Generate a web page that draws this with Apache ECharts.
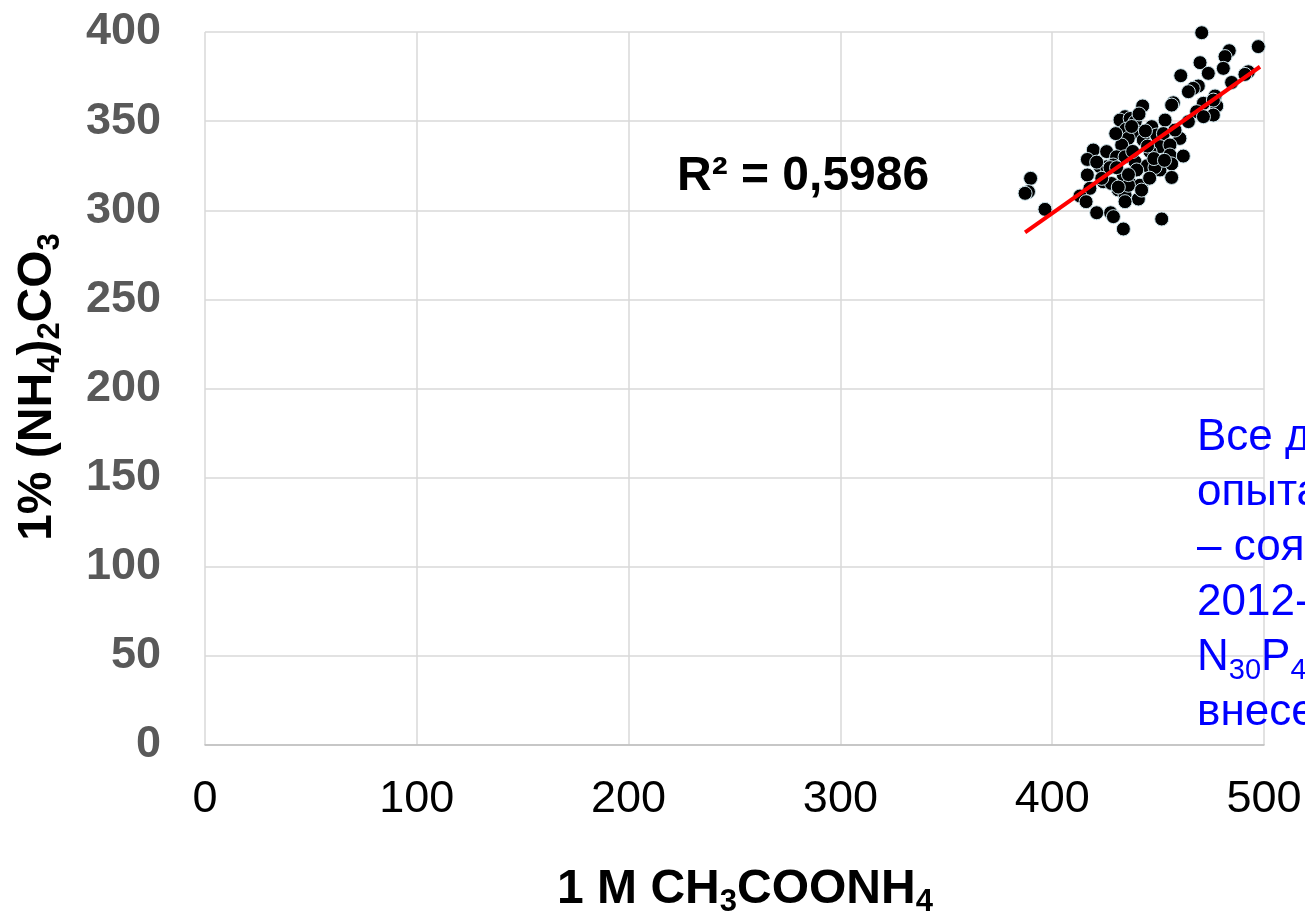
<!DOCTYPE html>
<html>
<head>
<meta charset="utf-8">
<script src="https://cdn.jsdelivr.net/npm/echarts@6/dist/echarts.min.js"></script>
<style>
html,body{margin:0;padding:0;background:#fff;}
#c{width:1305px;height:918px;}
</style>
</head>
<body>
<div id="c"></div>
<script>
// x: 1 M CH3COONH4, y: 1% (NH4)2CO3
const xVals = [470.6,497.3,483.6,481.6,469.8,480.8,473.7,460.7,492.6,491.0,
  484.7,469.0,466.6,464.3,457.2,456.4,476.9,471.4,477.7,468.2,
  476.1,471.4,464.3,442.7,453.3,434.4,432.0,436.8,439.2,434.8,
  447.0,440.0,449.3,452.5,460.3,443.0,435.9,432.8,450.9,455.6,
  446.2,455.6,461.9,419.4,425.7,416.6,430.4,434.4,439.1,444.9,
  422.6,425.7,428.8,439.9,450.9,456.4,416.6,433.6,456.4,424.1,
  428.0,436.7,442.2,417.8,431.2,434.4,440.7,413.1,416.0,434.4,
  421.0,427.6,428.9,433.6,451.7,389.8,388.8,387.2,396.6,476.1,
  423.4,441.4,448.5,427.3,430.4,436.0,442.2,431.2,437.5,445.0,
  438.0,448.0,444.0,430.0,453.0,421.0,436.0,446.0,458.0,441.0];
const yVals = [399.6,391.8,389.5,386.2,382.8,379.6,376.8,375.5,377.7,376.2,
  371.7,369.7,368.4,366.5,360.3,359.0,364.1,360.0,358.5,355.3,
  353.4,352.5,349.7,358.5,350.6,352.5,350.6,351.5,349.7,345.4,
  346.9,344.0,342.2,343.0,340.3,339.4,340.3,336.6,335.7,336.6,
  332.9,331.0,330.4,333.8,332.9,328.5,330.0,330.0,327.2,325.0,
  324.4,324.4,325.4,322.6,322.6,326.0,319.8,319.8,318.4,316.0,
  315.0,315.0,313.6,312.3,311.4,308.6,306.3,308.0,304.8,304.8,
  298.6,298.6,296.4,289.5,295.1,317.9,310.4,309.5,300.5,361.8,
  317.9,314.0,324.0,323.9,323.9,314.0,311.3,313.0,347.0,336.0,
  333.0,329.0,344.5,343.0,328.0,327.0,320.0,318.0,345.0,354.0];
// linear trend line endpoints (x, y)
const trendX = [387.2, 498.1];
const trendY = [287.6, 380.5];
const r2Text = 'R² = 0,5986';
const noteLines = ['Все д', 'опыта', '– соя', '2012-', 'N{s|30}P{s|4}', 'внесе'];

const FONT = '"Liberation Sans", Arial, Helvetica, sans-serif';
const points = xVals.map((x, i) => [x, yVals[i]]);
const trend = trendX.map((x, i) => [x, trendY[i]]);

function richLine(l) {
  if (l.indexOf('{') < 0) return '{n|' + l + '}';
  return l.replace(/^([^{]+)/, '{n|$1}').replace(/\}([^{}|]+)\{/g, '}{n|$1}{');
}

const chart = echarts.init(document.getElementById('c'), null, {renderer: 'canvas'});
chart.setOption({
  animation: false,
  backgroundColor: '#ffffff',
  grid: {left: 205, right: 41, top: 32, bottom: 173, containLabel: false},
  xAxis: {
    type: 'value', min: 0, max: 500, interval: 100,
    axisLine: {show: true, lineStyle: {color: '#bfbfbf', width: 1.5}},
    axisTick: {show: false},
    axisLabel: {fontFamily: FONT, fontSize: 45, color: '#000000', margin: 32},
    splitLine: {show: true, lineStyle: {color: '#d9d9d9', width: 1.5}}
  },
  yAxis: {
    type: 'value', min: 0, max: 400, interval: 50,
    axisLine: {show: false},
    axisTick: {show: false},
    axisLabel: {fontFamily: FONT, fontSize: 45, fontWeight: 'bold', color: '#595959', margin: 44},
    splitLine: {show: true, lineStyle: {color: '#d9d9d9', width: 1.5}}
  },
  series: [
    {
      type: 'scatter', data: points, symbol: 'circle', symbolSize: 14,
      itemStyle: {color: '#000000', opacity: 1, borderColor: '#cfe5ec', borderWidth: 1},
      z: 2
    },
    {
      type: 'line', data: trend, symbol: 'none',
      lineStyle: {color: '#ff0000', width: 4},
      z: 3
    }
  ],
  graphic: [
    {
      type: 'text', x: 677, y: 177, z: 10,
      style: {text: r2Text, fontFamily: FONT, fontSize: 48, fontWeight: 'bold', fill: '#000000',
              align: 'left', verticalAlign: 'middle'}
    },
    {
      type: 'text', x: 745, y: 890, z: 10,
      style: {
        text: '{b|1 M CH}{s|3}{b|COONH}{s|4}',
        align: 'center', verticalAlign: 'middle',
        rich: {
          b: {fontFamily: FONT, fontSize: 48, fontWeight: 'bold', fill: '#000000', lineHeight: 56},
          s: {fontFamily: FONT, fontSize: 31, fontWeight: 'bold', fill: '#000000', lineHeight: 20, verticalAlign: 'bottom'}
        }
      }
    },
    {
      type: 'text', x: 38, y: 387, rotation: Math.PI / 2, z: 10,
      style: {
        text: '{b|1% (NH}{s|4}{b|)}{s|2}{b|CO}{s|3}',
        align: 'center', verticalAlign: 'middle',
        rich: {
          b: {fontFamily: FONT, fontSize: 48, fontWeight: 'bold', fill: '#000000', lineHeight: 56},
          s: {fontFamily: FONT, fontSize: 31, fontWeight: 'bold', fill: '#000000', lineHeight: 20, verticalAlign: 'bottom'}
        }
      }
    },
    {
      type: 'text', x: 1197, y: 410, z: 10,
      style: {
        text: noteLines.map(richLine).join('\n'),
        align: 'left', verticalAlign: 'top',
        rich: {
          n: {fontFamily: FONT, fontSize: 44, fill: '#0000ff', lineHeight: 55},
          s: {fontFamily: FONT, fontSize: 29, fill: '#0000ff', lineHeight: 18, verticalAlign: 'bottom'}
        }
      }
    }
  ]
});
</script>
</body>
</html>
